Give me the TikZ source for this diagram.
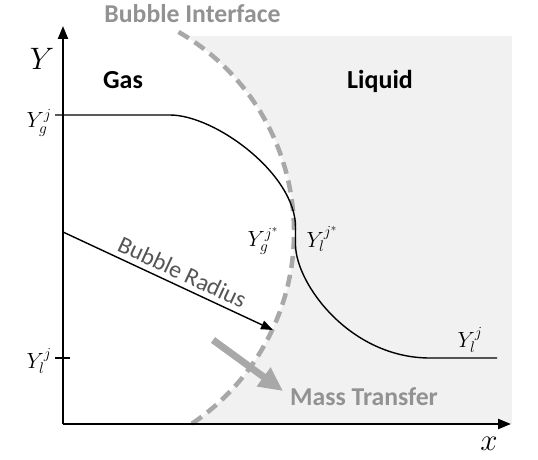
\RequirePackage{fix-cm}
\documentclass[tikz,border=0pt]{standalone}
\usepackage{fontspec}
\setmainfont{Carlito}
\usetikzlibrary{arrows.meta}
\definecolor{bgfill}{HTML}{F1F1F1}
\definecolor{dashgray}{HTML}{A8A8A8}
\definecolor{labgray}{HTML}{929292}
\definecolor{radgray}{HTML}{555555}
\tikzset{
  axisline/.style={line width=2.2pt, -{Triangle[length=13pt,width=10pt]}},
  profile/.style={line width=1.4pt},
  ticks/.style={line width=1.4pt},
  iface/.style={dashgray, line width=4.5pt, dash pattern=on 12pt off 7pt},
  radarrow/.style={line width=1.4pt, -{Triangle[length=12pt,width=9pt]}},
  massarrow/.style={dashgray, line width=7pt, -{Triangle[length=24pt,width=22pt]}},
  region/.style={font=\fontsize{26}{30}\selectfont\bfseries, inner sep=0pt},
  graylab/.style={font=\fontsize{25.7}{30}\selectfont\bfseries, text=labgray, inner sep=0pt},
  mathlab/.style={font=\fontsize{22}{26}\selectfont, inner sep=0pt},
  starlab/.style={font=\fontsize{22}{26}\selectfont, inner sep=0pt},
  axislab/.style={font=\fontsize{31}{36}\selectfont, inner sep=0pt},
}
\begin{document}
\begin{tikzpicture}[x=1pt,y=1pt]
\useasboundingbox (0,0) rectangle (538,459);
\fill[white] (0,0) rectangle (538,459);
% named points
\coordinate (c) at (63,227);
\coordinate (o) at (63,35);
\coordinate (ytip) at (63,433);
\coordinate (xtip) at (511,35);
% liquid region
\begin{scope}
  \clip (63,35) rectangle (512,423);
  \fill[bgfill] (63,35) rectangle (512,423);
  \fill[white] (c) circle[radius=231];
\end{scope}
% bubble interface
\draw[iface] (c) ++(60:231) arc[start angle=60, end angle=-56.8, radius=231];
% axes
\draw[axisline] (o) -- (ytip);
\draw[axisline] (o) -- (xtip);
% ticks
\coordinate (tg) at (55,344);
\coordinate (tl0) at (55,101);
\coordinate (tl1) at (70,101);
\draw[ticks] (tl0) -- (tl1);
% concentration profile
\draw[profile] (tg) -- (170,344)
  .. controls (215,344) and (295.5,285) .. (295.5,232)
  -- (295.5,214)
  .. controls (296,175) and (350,101) .. (430,101)
  -- (497,101);
% bubble radius
\coordinate (rtip) at (273,129);
\draw[radarrow] (c) -- (rtip)
  node (rlab) [pos=0.54, sloped, above=3pt, inner sep=2pt, text=radgray,
    font=\fontsize{24}{28}\selectfont] {Bubble Radius};
% mass transfer
\coordinate (m0) at (213,119);
\coordinate (m1) at (283,68);
\draw[massarrow] (m0) -- (m1);
% labels
\node[graylab] (bi) at (192.5,445.5) {Bubble Interface};
\node[graylab] (mt) at (364,62) {Mass Transfer};
\node[region] (gas) at (123,379) {Gas};
\node[region] (liq) at (380,378) {Liquid};
\node[axislab] (ylab) at (42,400) {$Y$};
\node[axislab] (xlab) at (489,15) {$x$};
\node[mathlab] (ygj) at (39,336) {$Y_g^{j}$};
\node[mathlab] (ylj) at (39,98) {$Y_l^{j}$};
\node[starlab] (ygs) at (263,218) {$Y_g^{j^*}$};
\node[starlab] (yls) at (322,220) {$Y_l^{j^*}$};
\node[mathlab] (ylj2) at (470,119) {$Y_l^{j}$};
\end{tikzpicture}
\end{document}
